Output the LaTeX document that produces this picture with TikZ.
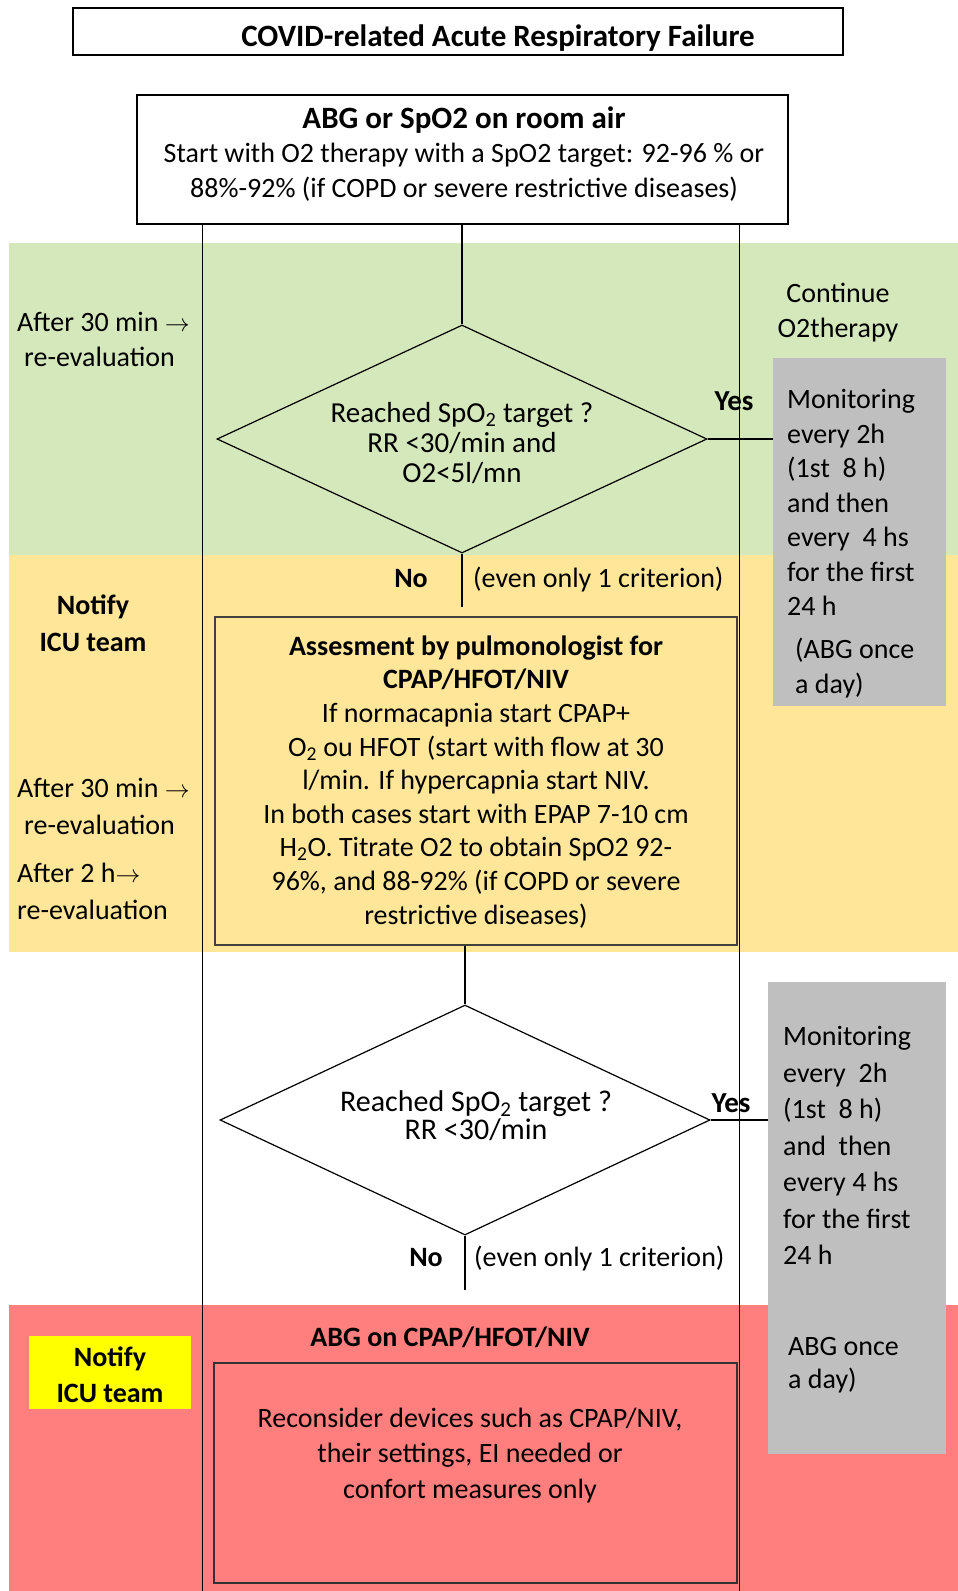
\documentclass[tikz,border=0pt]{standalone}
\usepackage{fontspec}
\setmainfont{Carlito}
\usetikzlibrary{shapes.geometric}
\definecolor{bandgreen}{HTML}{D5E8BC}
\definecolor{bandyellow}{HTML}{FFE699}
\definecolor{bandred}{HTML}{FF7F7F}
\definecolor{greybox}{HTML}{BFBFBF}
\definecolor{labelyellow}{HTML}{FFFF00}
\newcommand\myfs[2]{\fontsize{#1}{#2}\selectfont}
\begin{document}
\begin{tikzpicture}[x=1pt,y=-1pt,
  lane/.style={line width=0.8pt, black},
  conn/.style={line width=1.2pt, black},
  boxd/.style={draw=black, line width=1.2pt, inner sep=0pt},
  dia/.style={diamond, draw=black, line width=1.2pt, inner sep=0pt},
  gbox/.style={fill=greybox, inner sep=0pt},
  txt/.style={inner sep=0pt, font=\myfs{28}{35}},
  tb/.style={inner sep=0pt, font=\myfs{28}{35}\bfseries}]
\useasboundingbox (0,0) rectangle (958,1591);
% colour bands
\fill[bandgreen] (9,243) rectangle (958,555);
\fill[bandyellow] (9,555) rectangle (958,952);
\fill[bandred] (9,1305) rectangle (958,1591);
% swimlane lines
\coordinate (laneLa) at (202,224);
\coordinate (laneLb) at (202,1591);
\coordinate (laneRa) at (739,224);
\coordinate (laneRb) at (739,1591);
\draw[lane] (laneLa) -- (laneLb);
\draw[lane] (laneRa) -- (laneRb);
% title
\node[boxd, minimum width=770pt, minimum height=47pt] (title) at (458,31.5) {};
\node[tb, font=\myfs{31}{35}\bfseries, anchor=base] (titletext) at (498,46) {COVID-related Acute Respiratory Failure};
% start box
\node[boxd, minimum width=651pt, minimum height=129pt] (start) at (462.5,159.5) {};
\node[tb, font=\myfs{31}{35}\bfseries, anchor=base] (starthead) at (464,128) {ABG or SpO2 on room air};
\node[txt, anchor=base, align=center] (startbody) at (464,197) {Start with O2 therapy with a SpO2 target: 92-96 \% or\\88\%-92\% (if COPD or severe restrictive diseases)};
% diamond 1
\node[dia, minimum width=490pt, minimum height=228pt] (d1) at (462,439) {};
\draw[conn] (d1.north |- start.south) -- (d1.north);
\node[txt, anchor=base, align=center, font=\myfs{29}{30}] (d1t) at (462,482) {Reached SpO\textsubscript{2} target ?\\RR <30/min and\\O2<5l/mn};
% grey box 1
\node[gbox, minimum width=173pt, minimum height=348pt] (mon1) at (859.5,532) {};
\draw[conn] (d1.east) -- (mon1.west |- d1.east);
\node[txt, anchor=base west, align=left, font=\myfs{28}{34.5}] (mon1t) at (787,693) {Monitoring\\every 2h\\(1st~ 8 h)\\and then\\every~ 4 hs\\for the first\\24 h\\[8.5pt]\hspace*{8pt}(ABG once\\\hspace*{8pt}a day)};
\node[txt, anchor=base, align=center] (cont) at (838,337) {Continue\\O2therapy};
\node[tb, font=\myfs{29}{35}\bfseries, anchor=base] (yes1) at (734,410) {Yes};
\node[txt, anchor=base west, align=left] (t30a) at (17,366) {After 30 min $\rightarrow$\\\hspace*{7pt}re-evaluation};
% No 1
\coordinate (n1end) at (462,607);
\draw[conn] (d1.south) -- (n1end);
\node[tb, anchor=base] (no1) at (411,587) {No};
\node[txt, anchor=base west] (crit1) at (473,587) {(even only 1 criterion)};
\node[tb, anchor=base, align=center, font=\myfs{28}{37}\bfseries] (notify1) at (93,651) {Notify\\ICU team};
% assessment box
\node[boxd, fill=bandyellow, draw=black!75, minimum width=522pt, minimum height=328pt] (assess) at (476,781) {};
\node[txt, anchor=base, align=center, font=\myfs{28}{33.6}] (assesst) at (476,924) {\textbf{Assesment by pulmonologist for}\\\textbf{CPAP/HFOT/NIV}\\If normacapnia start CPAP+\\O\textsubscript{2} ou HFOT (start with flow at 30\\l/min. If hypercapnia start NIV.\\In both cases start with EPAP 7-10 cm\\H\textsubscript{2}O. Titrate O2 to obtain SpO2 92-\\96\%, and 88-92\% (if COPD or severe\\restrictive diseases)};
\node[txt, anchor=base west, align=left, font=\myfs{28}{37}] (t30b) at (17,834) {After 30 min $\rightarrow$\\\hspace*{7pt}re-evaluation};
\node[txt, anchor=base west, align=left, font=\myfs{28}{37}] (t2h) at (17,919) {After 2 h$\rightarrow$\\re-evaluation};
% diamond 2
\node[dia, minimum width=490pt, minimum height=230pt] (d2) at (465,1120) {};
\draw[conn] (d2.north |- assess.south) -- (d2.north);
\node[txt, anchor=base, align=center, font=\myfs{30}{28}] (d2t) at (476,1139) {Reached SpO\textsubscript{2} target ?\\RR <30/min};
% grey box 2
\node[gbox, minimum width=178pt, minimum height=472pt] (mon2) at (857,1218) {};
\draw[conn] (d2.east) -- (mon2.west |- d2.east);
\node[txt, anchor=base west, align=left, font=\myfs{28}{36.5}] (mon2t) at (783,1388) {Monitoring\\every~ 2h\\(1st~ 8 h)\\and~ then\\every 4 hs\\for the first\\24 h\\[54pt]\hspace*{5pt}ABG once\\[-3.5pt]\hspace*{5pt}a day)};
\node[tb, font=\myfs{29}{35}\bfseries, anchor=base] (yes2) at (731,1112) {Yes};
% No 2
\coordinate (n2end) at (465,1290);
\draw[conn] (d2.south) -- (n2end);
\node[tb, anchor=base] (no2) at (426,1266) {No};
\node[txt, anchor=base west] (crit2) at (474,1266) {(even only 1 criterion)};
% red section
\node[tb, anchor=base] (abgcpap) at (450,1346) {ABG on CPAP/HFOT/NIV};
\node[fill=labelyellow, minimum width=162pt, minimum height=73pt, inner sep=0pt] (notify2) at (110,1372.5) {};
\node[tb, anchor=base, align=center, font=\myfs{28}{36}\bfseries] (notify2t) at (110,1402) {Notify\\ICU team};
\node[boxd, draw=black!80, minimum width=523pt, minimum height=220pt] (recons) at (475.5,1473) {};
\node[txt, anchor=base, align=center, font=\myfs{28}{35.5}] (reconst) at (470,1498) {Reconsider devices such as CPAP/NIV,\\their settings, EI needed or\\confort measures only};
\end{tikzpicture}
\end{document}
